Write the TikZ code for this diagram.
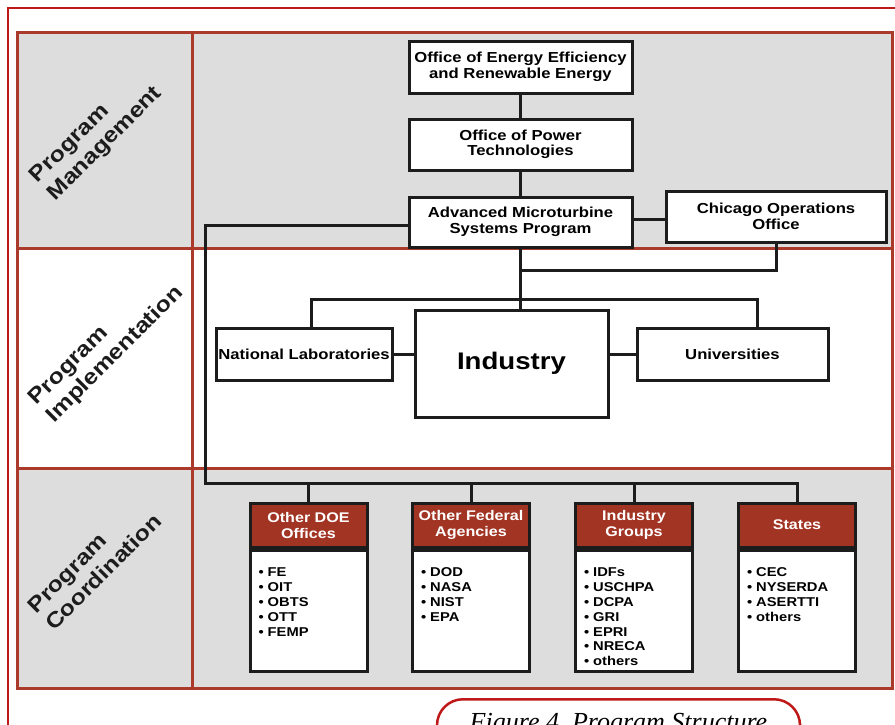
\documentclass[tikz,border=0pt]{standalone}
\usepackage{fontspec}
\setmainfont{Liberation Serif}
\newfontfamily\orgfont[FakeStretch=1.15]{Liberation Sans}
\usepackage{tikz}
\usetikzlibrary{positioning}
\definecolor{gridred}{RGB}{172,58,42}
\definecolor{framered}{RGB}{190,24,24}
\definecolor{headred}{RGB}{162,52,36}
\definecolor{cellgray}{RGB}{221,221,221}
\definecolor{boxline}{RGB}{28,28,28}
\newcommand{\orglist}[1]{\parbox[c][121pt][t]{100pt}{\vspace*{18pt}\raggedright #1}}

\begin{document}
\begin{tikzpicture}[x=1pt, y=-1pt,
  orgbox/.style={draw=boxline, line width=3pt, fill=white, minimum width=223pt, minimum height=51pt, align=center, inner sep=2pt, font=\orgfont\bfseries\fontsize{14.5}{15.5}\selectfont},
  headbox/.style={draw=boxline, line width=3pt, fill=headred, text=white, minimum width=117pt, minimum height=44pt, align=center, inner sep=1pt, font=\orgfont\bfseries\fontsize{14}{16}\selectfont},
  listbox/.style={draw=boxline, line width=3pt, fill=white, minimum width=117pt, minimum height=121pt, inner sep=0pt, font=\orgfont\bfseries\fontsize{12.8}{14.8}\selectfont},
  seclabel/.style={rotate=45, anchor=west, align=left, inner sep=0pt, text=boxline, font=\orgfont\bfseries\fontsize{21.5}{25}\selectfont},
  link/.style={draw=boxline, line width=3pt}
]
\useasboundingbox (0,0) rectangle (895,724);
\clip (0,0) rectangle (895,724);

% frame and table
\draw[framered, line width=2pt] (8,8) rectangle (930,760);
\fill[cellgray] (17,32) rectangle (892,248);
\fill[cellgray] (17,468) rectangle (892,688);
\draw[gridred, line width=3pt] (17,32) rectangle (892,688);
\draw[gridred, line width=3pt] (17,248) -- (892,248) (17,468) -- (892,468) (192,32) -- (192,688);

\node[seclabel] (pm) at (43,189) {Program\\Management};
\node[seclabel] (pi) at (42,411) {Program\\Implementation};
\node[seclabel] (pc) at (40,618) {Program\\Coordination};

% management
\node[orgbox, minimum height=52pt] (eere) at (520.5,67) {Office of Energy Efficiency\\and Renewable Energy};
\node[orgbox, below=23pt of eere] (opt) {Office of Power\\Technologies};
\node[orgbox, minimum height=50pt, below=24pt of opt] (amsp) {Advanced Microturbine\\Systems Program};
\node[orgbox, minimum width=220pt] (chicago) at (776,216.5) {Chicago Operations\\Office};

% implementation
\node[orgbox, minimum width=176pt, minimum height=52pt] (natlab) at (304,354) {National Laboratories};
\node[orgbox, minimum width=193pt, minimum height=107pt, font=\orgfont\bfseries\fontsize{24}{26}\selectfont] (industry) at (511.5,363.5) {Industry};
\node[orgbox, minimum width=191pt, minimum height=52pt] (univ) at (732.5,354) {Universities};

% coordination
\node[headbox] (doeH) at (308.5,525) {Other DOE\\Offices};
\node[listbox, below=0pt of doeH] (doeB) {\orglist{• FE\\• OIT\\• OBTS\\• OTT\\• FEMP}};
\node[headbox] (fedH) at (471,525) {Other Federal\\Agencies};
\node[listbox, below=0pt of fedH] (fedB) {\orglist{• DOD\\• NASA\\• NIST\\• EPA}};
\node[headbox] (igrH) at (634,525) {Industry\\Groups};
\node[listbox, below=0pt of igrH] (igrB) {\orglist{• IDFs\\• USCHPA\\• DCPA\\• GRI\\• EPRI\\• NRECA\\• others}};
\node[headbox] (staH) at (797,525) {States};
\node[listbox, below=0pt of staH] (staB) {\orglist{• CEC\\• NYSERDA\\• ASERTTI\\• others}};

% connectors
\coordinate (cojoin) at (520.5,270);
\coordinate (labbar) at (520.5,299);
\coordinate (coordbar) at (205,483);
\draw[link] (eere) -- (opt);
\draw[link] (opt) -- (amsp);
\draw[link] ([yshift=3pt]amsp.east) -- ([yshift=3pt]amsp.east -| chicago.west);
\draw[link] (amsp.south) -- (amsp.south |- industry.north);
\draw[link] (chicago.south) |- (cojoin);
\draw[link] ([xshift=7pt]natlab.north) |- (labbar) -| ([xshift=24.5pt]univ.north);
\draw[link] (natlab.east) -- (natlab.east -| industry.west);
\draw[link] (univ.west) -- (univ.west -| industry.east);
\draw[link] ([yshift=-3pt]amsp.west) -| (coordbar) -| (staH.north);
\foreach \n in {doe,fed,igr}
  \draw[link] (\n H.north) -- (\n H.north |- coordbar);

% caption
\node[draw=framered, line width=2.5pt, rounded corners=26pt, minimum width=363pt, minimum height=50pt, anchor=north, font=\itshape\fontsize{26}{30}\selectfont] (caption) at (618.5,698) {Figure 4.\ Program Structure};
\end{tikzpicture}
\end{document}
